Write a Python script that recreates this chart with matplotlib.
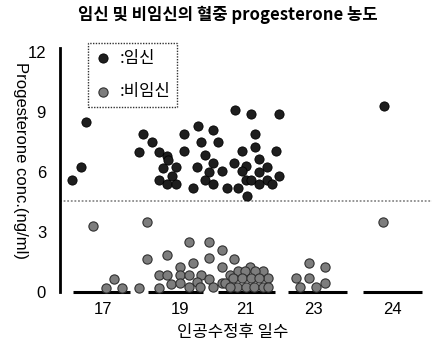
import matplotlib
matplotlib.use("Agg")
import matplotlib.pyplot as plt
import numpy as np

# days after insemination (tick labels) and where each group sits on the x axis
days = ["17", "19", "21", "23", "24"]
day_pos = [4.3, 12.0, 18.5, 25.3, 33.2]
group_spans = [(1.3, 7.0), (8.8, 14.3), (15.8, 21.5), (22.8, 28.7), (30.3, 36.2)]

# pregnant cows (x position, progesterone ng/ml)
preg_x = [1.2, 2.1, 2.6,
          8.3, 12.4, 9.2, 7.9, 9.9, 12.4, 10.7, 10.8, 10.3, 11.6, 11.2, 9.9, 10.7, 11.6,
          17.5, 19.1, 21.9, 13.8, 15.3, 19.5, 14.1, 15.8, 19.5, 18.2, 21.6, 14.5, 19.9,
          15.3, 13.7, 17.4, 18.6, 20.7, 14.9, 16.2, 18.2, 19.9, 21.9, 14.5, 18.6, 19.1,
          20.7, 15.3, 19.9, 21.2, 13.3, 16.7, 17.8, 18.7,
          32.4]
preg_y = [5.6, 6.27, 8.5,
          7.9, 7.9, 7.5, 7.0, 7.0, 7.05, 6.8, 6.6, 6.2, 6.23, 5.8, 5.6, 5.38, 5.38,
          9.1, 8.9, 8.9, 8.3, 8.1, 7.9, 7.5, 7.5, 7.27, 7.05, 7.05, 6.85, 6.65,
          6.47, 6.25, 6.45, 6.28, 6.25, 6.02, 6.03, 6.03, 6.02, 5.82, 5.62, 5.6, 5.6,
          5.6, 5.4, 5.4, 5.38, 5.18, 5.18, 5.18, 4.8,
          9.3]

# non-pregnant cows
open_x = [3.3, 5.4, 4.6, 6.2, 7.9,
          8.7, 8.7, 10.75, 9.9, 10.75, 9.9, 12.9, 14.9, 12.0, 13.3, 14.9, 11.1, 12.0,
          12.9, 14.1, 12.0, 13.7, 14.9, 12.9, 14.0, 15.3,
          16.2, 17.4, 16.2, 19.0, 17.0, 16.2, 16.5, 20.3, 17.8, 18.5, 19.5, 20.8, 17.3,
          18.2, 19.1, 19.9, 17.7, 18.6, 19.4, 20.3, 20.8, 17.0,
          24.9, 26.5, 23.6, 24.9, 26.5, 24.0, 25.6,
          32.3]
open_y = [3.3, 0.63, 0.22, 0.22, 0.22,
          3.5, 1.65, 1.85, 0.85, 0.85, 0.22, 2.52, 2.52, 1.25, 1.45, 1.68, 0.4, 0.85,
          0.85, 0.85, 0.43, 0.48, 0.65, 0.23, 0.23, 0.23,
          2.08, 1.65, 1.25, 1.27, 0.85, 0.43, 0.43, 1.05, 1.05, 1.05, 1.05, 0.68, 0.68,
          0.68, 0.68, 0.68, 0.23, 0.23, 0.23, 0.23, 0.23, 0.23,
          1.47, 1.23, 0.68, 0.68, 0.43, 0.23, 0.23,
          3.5]

cutoff = 4.55

latin = ["Liberation Sans", "DejaVu Sans"]
korean = ["Noto Sans CJK KR", "DejaVu Sans"]

fig = plt.figure(figsize=(4.33, 3.43), dpi=100)
ax = fig.add_axes([60 / 433, 1 - 292 / 343, 372 / 433, 244 / 343])
ax.set_xlim(0, 37.2)
ax.set_ylim(0, 12.2)

ax.axhline(cutoff, color="#8c8c8c", lw=1.3, ls=(0, (1, 1)))

for a, b in group_spans:
    ax.plot([a, b], [0, 0], color="black", lw=2.2, solid_capstyle="butt", clip_on=False)

ax.scatter(preg_x, preg_y, s=44, c="#1e1e1e", edgecolors="black", linewidths=0.6,
           zorder=3, clip_on=False, label=":임신")
ax.scatter(open_x, open_y, s=44, c="#7d7d7d", edgecolors="#303030", linewidths=0.8,
           zorder=3, clip_on=False, label=":비임신")

for s in ["top", "right", "bottom"]:
    ax.spines[s].set_visible(False)
ax.spines["left"].set_linewidth(2)

ax.set_xticks(day_pos)
ax.set_xticklabels(days)
ax.set_yticks([0, 3, 6, 9, 12])
ax.tick_params(length=0, labelsize=12)
ax.tick_params(axis="y", pad=10)
ax.tick_params(axis="x", pad=7)
for t in ax.get_xticklabels() + ax.get_yticklabels():
    t.set_family(latin)

leg = ax.legend(loc="upper left", bbox_to_anchor=(88 / 433, 1 - 43 / 343),
                bbox_transform=fig.transFigure, borderaxespad=0, fontsize=12,
                prop={"family": korean, "size": 12}, handlelength=1.0,
                handletextpad=0.5, labelspacing=1.0, borderpad=0.4, fancybox=False)
leg.get_frame().set_edgecolor("black")
leg.get_frame().set_linestyle((0, (1, 1)))
leg.get_frame().set_linewidth(1.0)

fig.text(20 / 433, 1 - 161 / 343, "Progesterone conc.(ng/ml)", rotation=270,
         ha="center", va="center", fontsize=12, family=latin)
fig.text(228 / 433, 1 - 15 / 343, "임신 및 비임신의 혈중 progesterone 농도",
         ha="center", va="center", fontsize=12, family=korean, fontweight="bold")
fig.text(233 / 433, 1 - 332 / 343, "인공수정후 일수", ha="center", va="center",
         fontsize=12, family=korean)

fig.savefig("out.png", dpi=100)
